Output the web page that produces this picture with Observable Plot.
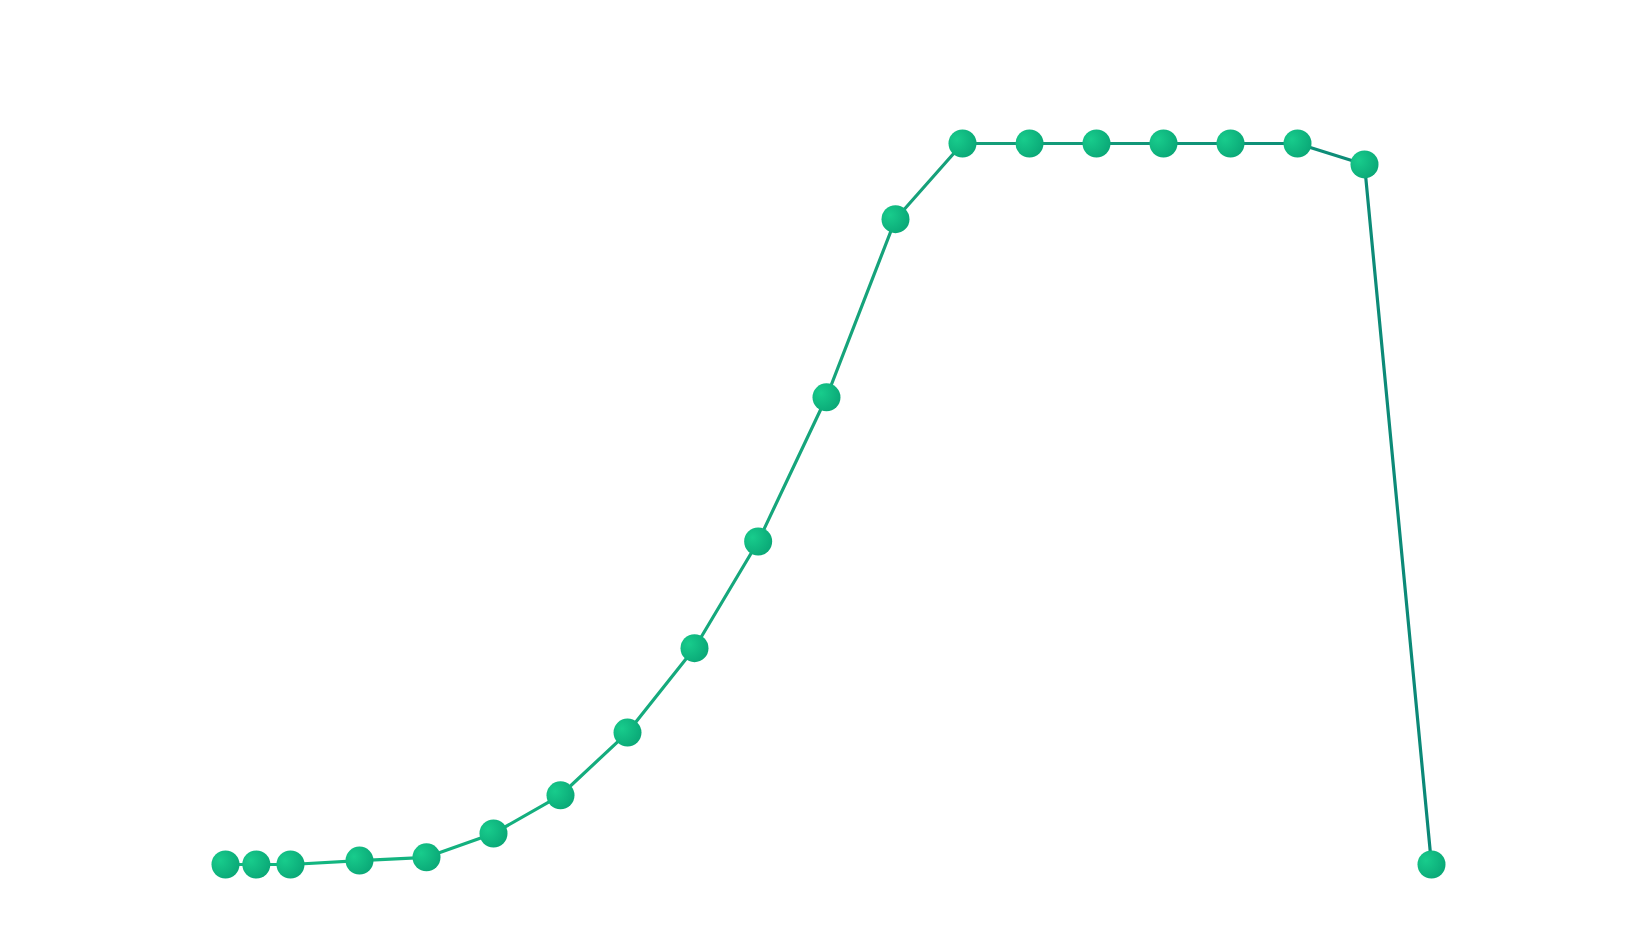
<!DOCTYPE html>
<html>
<head>
<meta charset="utf-8">
<script src="https://cdn.jsdelivr.net/npm/d3@7"></script>
<script src="https://cdn.jsdelivr.net/npm/@observablehq/plot@0.6"></script>
<style>
  html, body { margin: 0; padding: 0; background: #ffffff; }
  #chart svg { display: block; }
</style>
</head>
<body>
<div id="chart"></div>
<script>
const steps = [0, 0.46, 0.97, 2, 3, 4, 5, 6, 7, 7.95, 8.97, 10, 11, 12, 13, 14, 15, 16, 17, 18];
const values = [0, 0, 0, 0.55, 1.0, 4.3, 9.6, 18.3, 30.0, 44.8, 64.8, 89.5, 100, 100, 100, 100, 100, 100, 97.1, 0];

const data = steps.map((s, i) => ({x: s, y: values[i]}));

const chart = Plot.plot({
  width: 1645,
  height: 932,
  marginLeft: 225,
  marginRight: 214,
  marginTop: 143,
  marginBottom: 68,
  x: {domain: [0, 18], axis: null},
  y: {domain: [0, 100], axis: null},
  style: {background: "#ffffff", overflow: "visible"},
  marks: [
    Plot.line(data, {x: "x", y: "y", stroke: "url(#lineGrad)", strokeWidth: 3.2, curve: "linear"}),
    Plot.dot(data, {x: "x", y: "y", r: 14, fill: "url(#dotGrad)", stroke: "none"})
  ]
});

const ns = "http://www.w3.org/2000/svg";
const defs = document.createElementNS(ns, "defs");
defs.innerHTML = `
  <linearGradient id="lineGrad" x1="0" y1="0" x2="1" y2="0">
    <stop offset="0%" stop-color="#12b981"/>
    <stop offset="60%" stop-color="#16a07a"/>
    <stop offset="100%" stop-color="#0b8877"/>
  </linearGradient>
  <radialGradient id="dotGrad" cx="0.3" cy="0.35" r="0.8">
    <stop offset="0%" stop-color="#18cc8c"/>
    <stop offset="100%" stop-color="#09a575"/>
  </radialGradient>`;
chart.insertBefore(defs, chart.firstChild);
document.getElementById("chart").appendChild(chart);
</script>
</body>
</html>
